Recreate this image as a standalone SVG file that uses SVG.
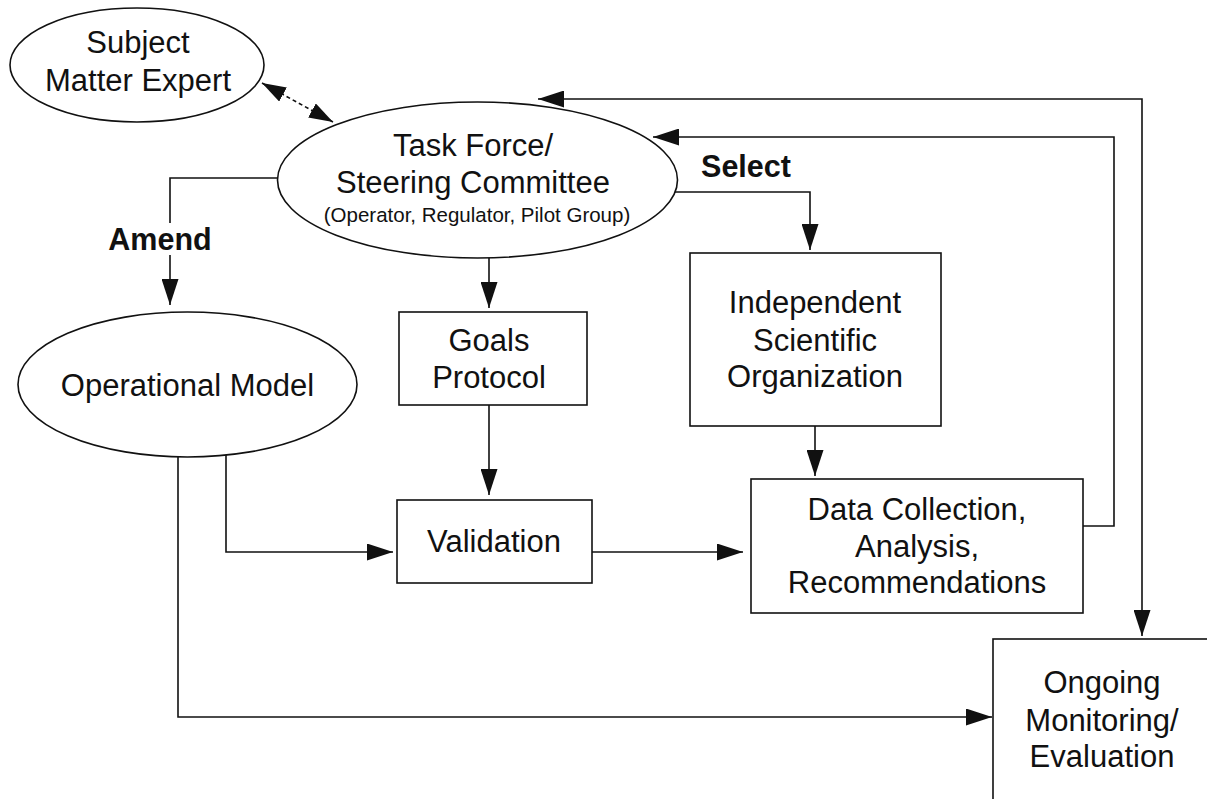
<svg xmlns="http://www.w3.org/2000/svg" width="1207" height="799" viewBox="0 0 1207 799">
<style>
.shape{fill:#fff;stroke:#111;stroke-width:1.6}
.ln{fill:none;stroke:#111;stroke-width:1.6}
.dot{fill:none;stroke:#111;stroke-width:1.6;stroke-dasharray:4 3}
text{font-family:"Liberation Sans",Arial,Helvetica,sans-serif;fill:#111;text-anchor:middle}
.t{font-size:31px}
.s{font-size:20.5px}
.b{font-size:30.5px;font-weight:bold}
</style>
<defs>
<marker id="ah" markerUnits="userSpaceOnUse" markerWidth="26" markerHeight="17" refX="26" refY="8.5" orient="auto-start-reverse" viewBox="0 0 26 17">
<path d="M0,0 L26,8.5 L0,17 z" fill="#111"/>
</marker>
<marker id="ahs" markerUnits="userSpaceOnUse" markerWidth="24" markerHeight="16" refX="24" refY="8" orient="auto-start-reverse" viewBox="0 0 24 16">
<path d="M0,0 L24,8 L0,16 z" fill="#111"/>
</marker>
</defs>
<g id="connectors">
<line class="dot" x1="262" y1="83" x2="333" y2="122" marker-start="url(#ahs)" marker-end="url(#ahs)"/>
<path class="ln" d="M278,178 H170 V223"/>
<path class="ln" d="M170,255 V305" marker-end="url(#ah)"/>
<path class="ln" d="M675,192 H810 V250" marker-end="url(#ah)"/>
<path class="ln" d="M489,258 V308" marker-end="url(#ah)"/>
<path class="ln" d="M489,405 V495" marker-end="url(#ah)"/>
<path class="ln" d="M815,426 V476" marker-end="url(#ah)"/>
<path class="ln" d="M226,455 V552 H393" marker-end="url(#ah)"/>
<path class="ln" d="M592,552 H743" marker-end="url(#ah)"/>
<path class="ln" d="M178,457 V717 H992" marker-end="url(#ah)"/>
<path class="ln" d="M1083,526 H1114 V137 H653" marker-end="url(#ah)"/>
<path class="ln" d="M538,99 H1142 V636" marker-start="url(#ah)" marker-end="url(#ah)"/>
<text class="b" x="160" y="250">Amend</text>
<text class="b" x="746" y="177">Select</text>
</g>
<g id="sme">
<ellipse class="shape" cx="137" cy="65" rx="127" ry="57"/>
<text class="t" x="138" y="53">Subject</text>
<text class="t" x="138" y="91">Matter Expert</text>
</g>
<g id="taskforce">
<ellipse class="shape" cx="477.5" cy="180" rx="200" ry="78"/>
<text class="t" x="473" y="156">Task Force/</text>
<text class="t" x="473" y="193">Steering Committee</text>
<text class="s" x="477" y="222">(Operator, Regulator, Pilot Group)</text>
</g>
<g id="opmodel">
<ellipse class="shape" cx="187.5" cy="384.5" rx="169.5" ry="72.5"/>
<text class="t" x="187.5" y="396">Operational Model</text>
</g>
<g id="goals">
<rect class="shape" x="399" y="312" width="188" height="93"/>
<text class="t" x="489" y="351">Goals</text>
<text class="t" x="489" y="388">Protocol</text>
</g>
<g id="validation">
<rect class="shape" x="397" y="500" width="195" height="83"/>
<text class="t" x="494" y="552">Validation</text>
</g>
<g id="iso">
<rect class="shape" x="690" y="253" width="251" height="173"/>
<text class="t" x="815" y="313">Independent</text>
<text class="t" x="815" y="351">Scientific</text>
<text class="t" x="815" y="387">Organization</text>
</g>
<g id="data">
<rect class="shape" x="751" y="479" width="332" height="134"/>
<text class="t" x="917" y="520">Data Collection,</text>
<text class="t" x="917" y="557">Analysis,</text>
<text class="t" x="917" y="593">Recommendations</text>
</g>
<g id="ongoing">
<rect class="shape" x="993" y="639" width="230" height="180"/>
<text class="t" x="1102" y="693">Ongoing</text>
<text class="t" x="1102" y="731">Monitoring/</text>
<text class="t" x="1102" y="767">Evaluation</text>
</g>
</svg>
